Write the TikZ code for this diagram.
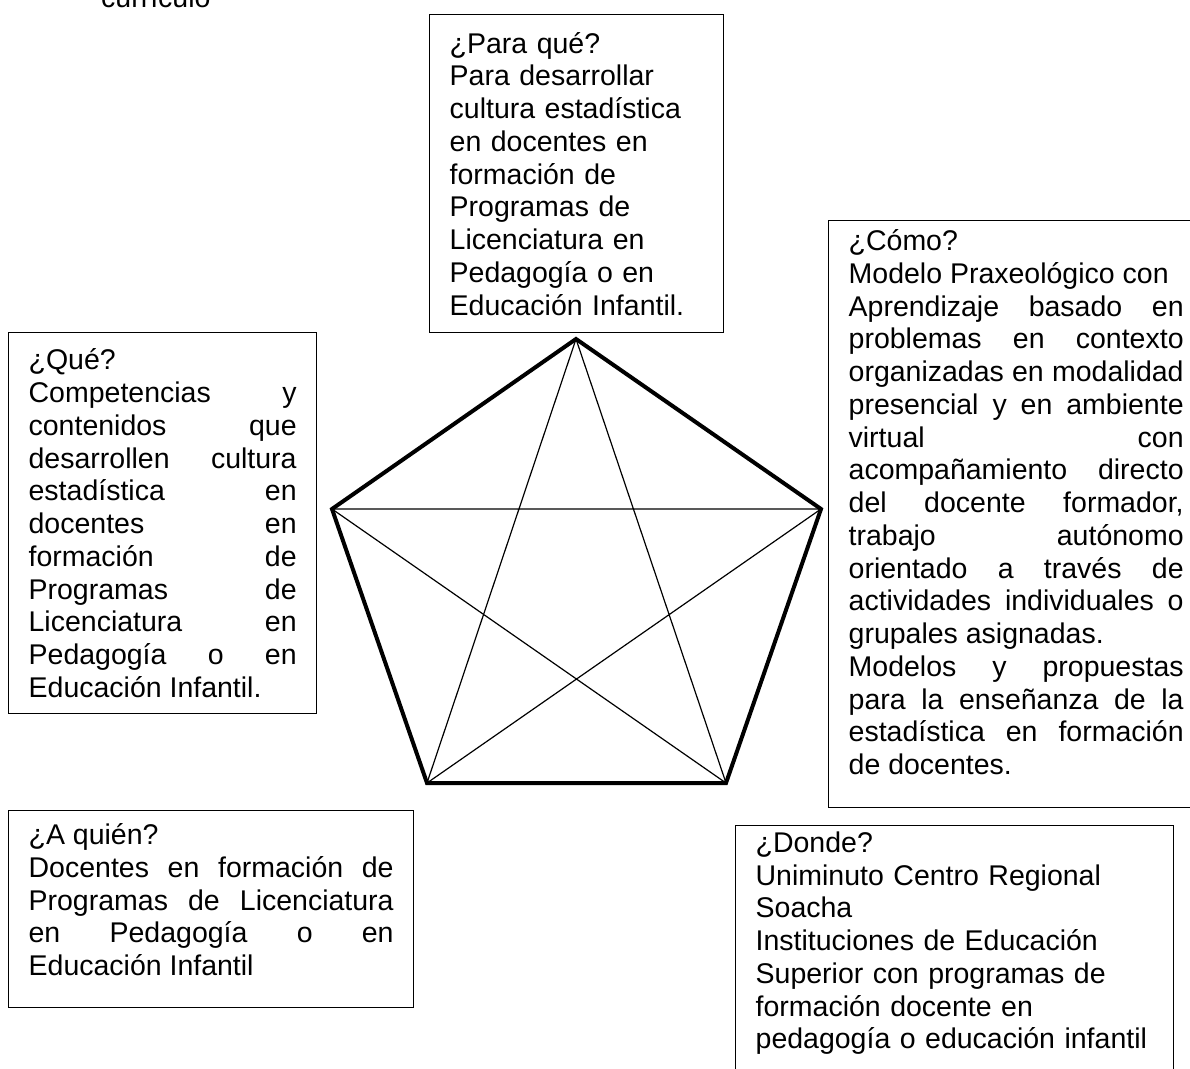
\documentclass[tikz,border=0pt]{standalone}
\usepackage{fontspec}
\setmainfont{Liberation Sans}
\usetikzlibrary{positioning}
\newcommand{\boxfont}{\fontsize{28.5}{32.75}\selectfont\tolerance=9999\hyphenpenalty=10000}

\begin{document}
\begin{tikzpicture}[x=1pt, y=-1pt,
    question/.style={draw, line width=1.3pt, anchor=north west, inner xsep=20pt, inner ysep=6pt, font=\boxfont},
    side/.style={line width=4pt},
    chord/.style={line width=1.2pt}]
    \useasboundingbox (0,0) rectangle (1190,1068);

    \node[font=\boxfont, anchor=base west, inner sep=0pt] (caption) at (101,8) {currículo};

    % pentagon with all its diagonals
    \coordinate (vtop) at (576,339);
    \coordinate (vleft) at (332,509);
    \coordinate (vright) at (821,509);
    \coordinate (vbl) at (427,783);
    \coordinate (vbr) at (726,783);
    \draw[chord] (vtop) -- (vbl) (vtop) -- (vbr) (vleft) -- (vright) (vleft) -- (vbr) (vright) -- (vbl);
    \draw[side] (vtop) -- (vright) -- (vbr) -- (vbl) -- (vleft) -- cycle;

    \node[question, text width=254pt, align=left, minimum height=318pt] (paraque) at (429,14) {
        ¿Para qué?\\ Para desarrollar\\ cultura estadística\\ en docentes en\\ formación de\\
        Programas de\\ Licenciatura en\\ Pedagogía o en\\ Educación Infantil.
    };

    \node[question, text width=268pt, align=justify, minimum height=381pt] (que) at (8,332) {
        ¿Qué?\\ Competencias y\linebreak contenidos que\linebreak desarrollen cultura\linebreak
        estadística en\linebreak docentes en\linebreak formación de\linebreak Programas de\linebreak
        Licenciatura en\linebreak Pedagogía o en\linebreak Educación Infantil.
    };

    \node[question, text width=335pt, align=justify, inner ysep=9pt] (como) at (828,220) {
        ¿Cómo?\\ Modelo Praxeológico con\\ Aprendizaje basado en\linebreak problemas en contexto\linebreak
        organizadas en modalidad\linebreak presencial y en ambiente\linebreak virtual con\linebreak
        acompañamiento directo\linebreak del docente formador,\linebreak trabajo autónomo\linebreak
        orientado a través de\linebreak actividades individuales o\linebreak grupales asignadas.\\
        Modelos y propuestas\linebreak para la enseñanza de la\linebreak estadística en formación\linebreak
        de docentes.\rule[-24pt]{0pt}{24pt}
    };

    \node[question, text width=365pt, align=justify, inner ysep=13pt] (aquien) at (8,810) {
        ¿A quién?\\ Docentes en formación de\linebreak Programas de Licenciatura\linebreak
        en Pedagogía o en\linebreak Educación Infantil\rule[-19pt]{0pt}{19pt}
    };

    \node[question, text width=398pt, align=left] (donde) at (735,825) {
        ¿Donde?\\ Uniminuto Centro Regional\\ Soacha\\ Instituciones de Educación\\
        Superior con programas de\\ formación docente en\\
        pedagogía o educación infantil\rule[-60pt]{0pt}{60pt}
    };
\end{tikzpicture}
\end{document}
